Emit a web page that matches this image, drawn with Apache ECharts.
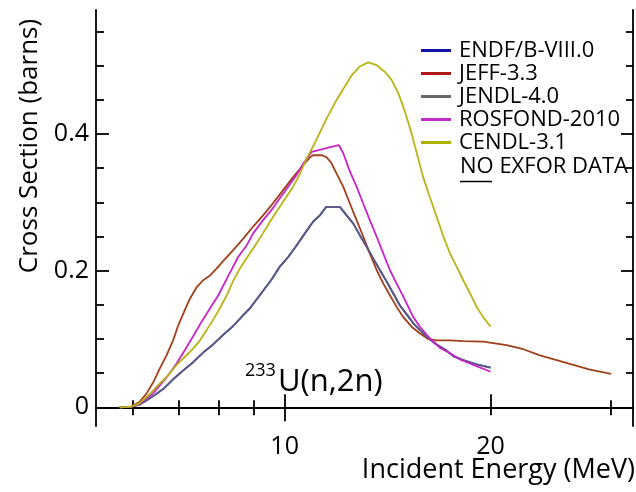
<!DOCTYPE html>
<html>
<head>
<meta charset="utf-8">
<script src="https://cdn.jsdelivr.net/npm/echarts@6/dist/echarts.min.js"></script>
<style>
  html, body { margin: 0; padding: 0; background: #fff; }
  #chart { width: 636px; height: 492px; }
</style>
</head>
<body>
<div id="chart"></div>
<script>
// 233U(n,2n) cross section, energy in MeV, cross section in barns
const jeffE  = [5.74, 5.97, 6.14, 6.28, 6.43, 6.57, 6.72, 6.87, 6.99, 7.11, 7.27, 7.44, 7.60, 7.78, 7.95, 8.13, 8.41, 8.70, 9.00, 9.30, 9.62, 9.95, 10.29, 10.65, 10.89, 11.01, 11.33, 11.52, 11.70, 11.91, 12.18, 12.46, 12.74, 13.03, 13.32, 13.63, 13.94, 14.25, 14.58, 14.91, 15.33, 15.77, 16.21, 16.68, 17.45, 18.24, 19.51, 20.18, 21.11, 22.33, 23.62, 24.98, 26.42, 27.95, 30.0];
const jeffXS = [0, 0.001, 0.008, 0.020, 0.037, 0.057, 0.076, 0.098, 0.120, 0.137, 0.159, 0.176, 0.186, 0.193, 0.203, 0.214, 0.230, 0.247, 0.265, 0.281, 0.299, 0.318, 0.337, 0.355, 0.366, 0.369, 0.369, 0.366, 0.358, 0.342, 0.323, 0.298, 0.274, 0.250, 0.225, 0.201, 0.181, 0.164, 0.147, 0.132, 0.118, 0.108, 0.100, 0.098, 0.098, 0.097, 0.096, 0.094, 0.091, 0.085, 0.076, 0.069, 0.062, 0.055, 0.049];

const jendlE  = [5.74, 5.97, 6.14, 6.28, 6.46, 6.65, 6.87, 7.11, 7.35, 7.60, 7.86, 8.13, 8.41, 8.70, 8.90, 9.57, 9.84, 10.12, 10.41, 10.71, 11.01, 11.26, 11.49, 12.05, 12.32, 12.60, 12.88, 13.18, 13.47, 13.78, 14.10, 14.41, 14.74, 15.08, 15.42, 15.77, 16.13, 16.68, 17.25, 17.64, 18.24, 19.08, 20.0];
const jendlXS = [0, 0.001, 0.004, 0.010, 0.018, 0.027, 0.041, 0.054, 0.066, 0.080, 0.092, 0.106, 0.119, 0.135, 0.145, 0.187, 0.206, 0.220, 0.237, 0.255, 0.272, 0.281, 0.293, 0.293, 0.281, 0.269, 0.252, 0.235, 0.218, 0.201, 0.184, 0.167, 0.149, 0.136, 0.123, 0.113, 0.103, 0.092, 0.083, 0.075, 0.069, 0.063, 0.058];

// ENDF/B-VIII.0 coincides with JENDL-4.0 for this reaction, so its line lies underneath
const endfE  = jendlE;
const endfXS = jendlXS;

const rosfondE  = [5.74, 5.97, 6.14, 6.28, 6.43, 6.57, 6.76, 6.95, 7.15, 7.35, 7.56, 7.78, 8.00, 8.23, 8.38, 8.55, 8.80, 9.00, 9.30, 9.57, 9.84, 10.12, 10.41, 10.65, 10.95, 11.26, 11.65, 12.0, 12.18, 12.46, 12.74, 13.03, 13.32, 13.63, 13.94, 14.25, 14.58, 14.91, 15.42, 15.77, 16.13, 16.49, 16.87, 17.45, 18.04, 18.87, 20.0];
const rosfondXS = [0, 0.001, 0.005, 0.013, 0.021, 0.032, 0.047, 0.064, 0.084, 0.104, 0.125, 0.145, 0.164, 0.188, 0.203, 0.220, 0.237, 0.255, 0.274, 0.289, 0.306, 0.323, 0.340, 0.357, 0.374, 0.377, 0.381, 0.384, 0.372, 0.345, 0.323, 0.298, 0.274, 0.250, 0.225, 0.201, 0.181, 0.162, 0.132, 0.118, 0.106, 0.096, 0.087, 0.079, 0.070, 0.062, 0.052];

const cendlE  = [5.74, 5.97, 6.14, 6.36, 6.57, 6.76, 6.95, 7.15, 7.35, 7.52, 7.69, 7.86, 8.04, 8.23, 8.41, 8.60, 8.70, 9.00, 9.30, 9.62, 9.95, 10.29, 10.53, 10.77, 11.07, 11.52, 11.91, 12.32, 12.53, 12.88, 13.25, 13.63, 14.02, 14.34, 14.66, 14.99, 15.33, 15.67, 15.94, 16.30, 16.68, 17.06, 17.45, 17.84, 18.24, 18.66, 19.08, 19.51, 20.0];
const cendlXS = [0, 0.001, 0.006, 0.020, 0.035, 0.047, 0.062, 0.074, 0.086, 0.098, 0.113, 0.128, 0.145, 0.164, 0.185, 0.203, 0.211, 0.233, 0.255, 0.279, 0.301, 0.323, 0.342, 0.364, 0.387, 0.423, 0.450, 0.474, 0.486, 0.499, 0.505, 0.501, 0.491, 0.479, 0.460, 0.433, 0.401, 0.365, 0.337, 0.308, 0.279, 0.250, 0.225, 0.206, 0.186, 0.167, 0.147, 0.132, 0.118];

const libraries = ['ENDF/B-VIII.0', 'JEFF-3.3', 'JENDL-4.0', 'ROSFOND-2010', 'CENDL-3.1'];

// axis tick and label positions
const xMajorTicks = [10, 20];
const xMinorTicks = [6, 7, 8, 9, 30];
const xTopMajorTicks = [10];
const xTopMinorTicks = [6, 7, 8, 9, 20, 30];
const yMajorTicks = [0, 0.2, 0.4];
const yMinorTicks = [0.05, 0.1, 0.15, 0.25, 0.3, 0.35, 0.45, 0.5, 0.55];

const FONT = 'Open Sans';
const lineColors   = ['#2a2aa0', '#a0401c', '#5c5c84', '#c824c8', '#b8b414'];
const legendColors = ['#1414a8', '#b01818', '#686868', '#c030c8', '#b0b000'];

function pairs(e, xs) { return e.map((v, i) => [v, xs[i]]); }
const seriesData = [
  pairs(endfE, endfXS),
  pairs(jeffE, jeffXS),
  pairs(jendlE, jendlXS),
  pairs(rosfondE, rosfondXS),
  pairs(cendlE, cendlXS)
];

const X_MIN = 5.3, X_MAX = 32.3;
const Y_MIN = -0.0274, Y_MAX = 0.5817;
const AXIS_W = 1.8;

function xAxisDef(position, ticks, len, showLine, labels) {
  return {
    type: 'log', logBase: 10, min: X_MIN, max: X_MAX, position: position, gridIndex: 0,
    axisLine: { show: showLine, lineStyle: { color: '#000', width: AXIS_W } },
    axisTick: { show: true, inside: true, length: len, customValues: ticks, lineStyle: { color: '#000', width: AXIS_W } },
    axisLabel: labels ? { show: true, customValues: labels, margin: 8, color: '#000', fontFamily: FONT, fontSize: 25 } : { show: false },
    splitLine: { show: false }, minorTick: { show: false }
  };
}
function yAxisDef(position, ticks, len, showLine, labels) {
  return {
    type: 'value', min: Y_MIN, max: Y_MAX, position: position, gridIndex: 0,
    axisLine: { show: showLine, onZero: false, lineStyle: { color: '#000', width: AXIS_W } },
    axisTick: { show: true, inside: true, length: len, customValues: ticks, lineStyle: { color: '#000', width: AXIS_W } },
    axisLabel: labels ? { show: true, customValues: labels, margin: 7, color: '#000', fontFamily: FONT, fontSize: 25,
      formatter: v => (Math.abs(v) < 1e-9 ? '0' : v.toFixed(1)) } : { show: false },
    splitLine: { show: false }
  };
}

const chart = echarts.init(document.getElementById('chart'), null, { renderer: 'canvas' });
chart.setOption({
  animation: false,
  backgroundColor: '#fff',
  grid: { left: 96, right: 3, top: 10, bottom: 66, containLabel: false },
  xAxis: [
    xAxisDef('bottom', xMajorTicks, 13, true, xMajorTicks),
    xAxisDef('bottom', xMinorTicks, 7, false, null),
    xAxisDef('top', xTopMajorTicks, 14, true, null),
    xAxisDef('top', xTopMinorTicks, 8, false, null)
  ],
  yAxis: [
    yAxisDef('left', yMajorTicks, 13, true, yMajorTicks),
    yAxisDef('left', yMinorTicks, 8, false, null),
    yAxisDef('right', yMajorTicks, 12, true, null),
    yAxisDef('right', yMinorTicks, 7, false, null)
  ],
  legend: {
    orient: 'vertical', left: 421, top: 39, padding: 0, itemWidth: 30, itemHeight: 3, itemGap: 0, icon: 'rect',
    textStyle: { fontFamily: FONT, fontSize: 22, color: '#000', lineHeight: 23, padding: [0, 0, 0, 3] },
    data: libraries.map((n, i) => ({ name: n, itemStyle: { color: legendColors[i] } })),
    selectedMode: false
  },
  series: libraries.map((n, i) => ({
    name: n, type: 'line', xAxisIndex: 0, yAxisIndex: 0,
    data: seriesData[i], showSymbol: false, symbol: 'none', smooth: false,
    lineStyle: { color: lineColors[i], width: 1.8 }, itemStyle: { color: lineColors[i] },
    z: 2 + i
  })),
  graphic: [
    { type: 'text', x: 30, y: 146, rotation: Math.PI / 2,
      style: { text: 'Cross Section (barns)', fontFamily: FONT, fontSize: 26, fill: '#000', align: 'center', verticalAlign: 'middle' } },
    { type: 'text', x: 635, y: 470,
      style: { text: 'Incident Energy (MeV)', fontFamily: FONT, fontSize: 27, fill: '#000', align: 'right', verticalAlign: 'middle' } },
    { type: 'text', x: 245, y: 371,
      style: { text: '233', fontFamily: FONT, fontSize: 18, fill: '#000', align: 'left', verticalAlign: 'middle' } },
    { type: 'text', x: 278, y: 382,
      style: { text: 'U(n,2n)', fontFamily: FONT, fontSize: 31, fill: '#000', align: 'left', verticalAlign: 'middle' } },
    { type: 'text', x: 460, y: 167,
      style: { text: 'NO EXFOR DATA', fontFamily: FONT, fontSize: 22, fill: '#000', align: 'left', verticalAlign: 'middle' } },
    { type: 'line', shape: { x1: 460, y1: 181.5, x2: 492, y2: 181.5 }, style: { stroke: '#000', lineWidth: 1.5 } }
  ]
});
</script>
</body>
</html>
